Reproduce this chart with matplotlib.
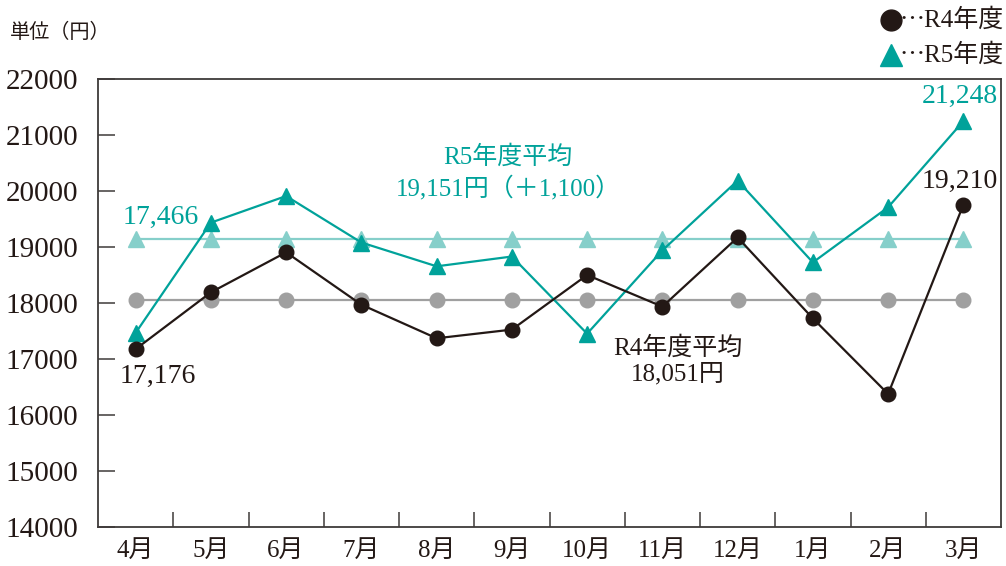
import matplotlib
matplotlib.use('Agg')
import matplotlib.pyplot as plt
from matplotlib.lines import Line2D

plt.rcParams['font.family'] = ['Liberation Serif', 'Noto Sans CJK JP', 'DejaVu Sans']

# データ
months = ['4月', '5月', '6月', '7月', '8月', '9月', '10月', '11月', '12月', '1月', '2月', '3月']
r4 = [17176, 18190, 18905, 17970, 17370, 17525, 18500, 17935, 19170, 17725, 16375, 19755]
r5 = [17466, 19435, 19910, 19080, 18655, 18830, 17452, 18940, 20185, 18725, 19710, 21248]
r4_avg = 18051
r5_avg = 19151
yticks = [14000, 15000, 16000, 17000, 18000, 19000, 20000, 21000, 22000]

c_r4 = '#231815'
c_r5 = '#00a29a'
c_r4_avg = '#a0a0a0'
c_r5_avg = '#86cfca'
c_axis = '#3e3a39'

fig = plt.figure(figsize=(10.06, 5.66), dpi=100)
ax = fig.add_axes([98 / 1006, 39 / 566, 903 / 1006, 448 / 566])

x = list(range(len(months)))

# 平均線
ax.plot(x, [r4_avg] * len(x), color=c_r4_avg, lw=1.6, marker='o', ms=10.5,
        zorder=2, clip_on=False)
ax.plot(x, [r5_avg] * len(x), color=c_r5_avg, lw=1.6, marker='^', ms=11,
        zorder=2, clip_on=False)

# 各年度
ax.plot(x, r5, color=c_r5, lw=1.6, marker='^', ms=11, zorder=3, clip_on=False)
ax.plot(x, r4, color=c_r4, lw=1.6, marker='o', ms=10.5, zorder=4, clip_on=False)

ax.set_xlim(-0.5, 11.5)
ax.set_ylim(14000, 22000)
ax.set_yticks(yticks)
ax.set_yticklabels([str(v) for v in yticks], fontsize=21, color=c_r4)
ax.set_xticks(x)
ax.set_xticklabels(months, fontsize=18, color=c_r4)
ax.set_xticks([i + 0.5 for i in range(len(months) - 1)], minor=True)
ax.tick_params(axis='x', which='major', length=0, pad=9)
ax.tick_params(axis='x', which='minor', direction='in', length=11, width=1.1, color=c_axis)
ax.tick_params(axis='y', direction='in', length=12, width=1.1, color=c_axis, pad=14)

for s in ax.spines.values():
    s.set_color(c_axis)
    s.set_linewidth(1.3)

# ラベル
ax.text(0.33, 17466 + 2060, '17,466', color=c_r5, fontsize=20, ha='center', va='center')
ax.text(0.3, 17176 - 480, '17,176', color=c_r4, fontsize=20, ha='center', va='center')
ax.text(11.46, 21248 + 450, '21,248', color=c_r5, fontsize=20, ha='right', va='center')
ax.text(10.95, 19755 + 410, '19,210', color=c_r4, fontsize=20, ha='center', va='center')
ax.text(4.95, 19151 + 1450, 'R5年度平均', color=c_r5, fontsize=18, ha='center', va='center')
ax.text(4.95, 19151 + 900, '19,151円（＋1,100）', color=c_r5, fontsize=18, ha='center', va='center')
ax.text(7.2, 18051 - 850, 'R4年度平均', color=c_r4, fontsize=18, ha='center', va='center')
ax.text(7.2, 18051 - 1320, '18,051円', color=c_r4, fontsize=18, ha='center', va='center')

fig.text(10 / 1006, 1 - 33 / 566, '単位（円）', fontsize=14.5, color=c_r4, ha='left', va='center')

# 凡例
fig.add_artist(Line2D([891 / 1006], [1 - 20 / 566], marker='o', ms=15, color=c_r4,
                      transform=fig.transFigure))
fig.text(1004 / 1006, 1 - 20 / 566, '⋯R4年度', fontsize=18, color=c_r4, ha='right', va='center')
fig.add_artist(Line2D([891 / 1006], [1 - 55 / 566], marker='^', ms=16, color=c_r5,
                      transform=fig.transFigure))
fig.text(1004 / 1006, 1 - 55 / 566, '⋯R5年度', fontsize=18, color=c_r4, ha='right', va='center')

fig.savefig('out.png', dpi=100)
